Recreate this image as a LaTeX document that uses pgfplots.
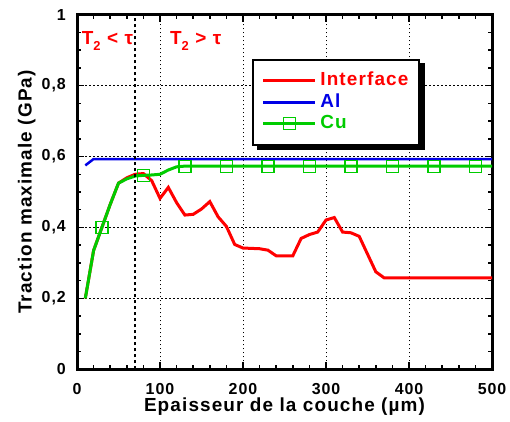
\documentclass[border=0pt]{standalone}
\usepackage{fontspec}
\setmainfont{Liberation Sans}[LetterSpace=6]
\usepackage{pgfplots}
\pgfplotsset{compat=1.18}
\pgfdeclarelayer{bg}
\pgfsetlayers{bg,main}
\definecolor{cured}{RGB}{255,0,0}
\definecolor{cublue}{RGB}{0,0,230}
\definecolor{cugreen}{RGB}{0,204,0}
\begin{document}
\begin{tikzpicture}
\begin{axis}[
  scale only axis, width=415bp, height=354.6bp,
  xmin=0, xmax=500, ymin=0, ymax=1,
  xtick={0,100,200,300,400,500},
  xticklabels={0,100,200,300,400,500},
  ytick={0,0.2,0.4,0.6,0.8,1},
  yticklabels={0,{0,2},{0,4},{0,6},{0,8},1},
  minor x tick num=4, minor y tick num=3,
  tick align=inside,
  major tick length=7bp, minor tick length=4bp,
  every tick/.style={black, line width=1.5bp},
  axis line style={black, line width=3bp},
  grid=major,
  major grid style={black, dash pattern=on 1.5bp off 2.5bp, line width=1bp},
  ticklabel style={font=\fontsize{16}{19}\selectfont\bfseries, inner sep=1bp},
  xticklabel style={yshift=-12.5bp},
  yticklabel style={xshift=-10bp},
  xlabel={Epaisseur de la couche (µm)},
  ylabel={Traction maximale (GPa)},
  label style={font=\fontsize{19}{22}\selectfont\bfseries, inner sep=1bp},
  xlabel style={yshift=-1.5bp},
  ylabel style={yshift=4bp},
  legend style={at={(0.422,0.875)}, anchor=north west, draw=black, line width=1.5bp,
    fill=white, name=leg,
    font=\fontsize{19}{21}\selectfont\bfseries, inner xsep=9bp, inner ysep=12bp,
    row sep=3.5bp, column sep=2bp,
    nodes={inner xsep=1.5bp, inner ysep=0bp, text height=14bp, text depth=4bp}},
  legend cell align=left,
  legend image code/.code={
    \draw[mark indices={2}] plot coordinates {(0bp,0bp) (26bp,0bp) (52bp,0bp)};
  },
]
\addplot[cured, line width=3bp] coordinates {
(10,0.2) (20,0.335) (30,0.40) (40,0.465) (50,0.525) (60,0.54) (70,0.55) (80,0.552)
(90,0.532) (100,0.482) (110,0.513) (120,0.47) (130,0.435) (140,0.437) (150,0.452)
(160,0.473) (170,0.43) (180,0.403) (190,0.352) (200,0.342) (220,0.34) (230,0.336)
(240,0.32) (260,0.32) (270,0.369) (280,0.38) (290,0.387) (300,0.421) (310,0.428)
(320,0.387) (330,0.385) (340,0.375) (360,0.275) (370,0.258) (500,0.258)
};
\addlegendentry{\textcolor{cured}{Interface}}
\addplot[cublue, line width=2.5bp] coordinates {
(10,0.575) (20,0.593) (500,0.593)
};
\addlegendentry{\textcolor{cublue}{Al}}
\addplot[cugreen, line width=3bp, mark=square, mark size=6bp,
  mark options={line width=1.2bp, fill=none},
  mark indices={3,8,13,18,23,28,33,38,43,48}] coordinates {
(10,0.2) (20,0.335) (30,0.40) (40,0.465) (50,0.525) (60,0.537) (70,0.545) (80,0.547)
(90,0.548) (100,0.55) (110,0.562) (120,0.571) (130,0.573) (140,0.573) (150,0.573)
(160,0.573) (170,0.573) (180,0.573) (190,0.573) (200,0.573) (210,0.573) (220,0.573)
(230,0.573) (240,0.573) (250,0.573) (260,0.573) (270,0.573) (280,0.573) (290,0.573)
(300,0.573) (310,0.573) (320,0.573) (330,0.573) (340,0.573) (350,0.573) (360,0.573)
(370,0.573) (380,0.573) (390,0.573) (400,0.573) (410,0.573) (420,0.573) (430,0.573)
(440,0.573) (450,0.573) (460,0.573) (470,0.573) (480,0.573) (490,0.573) (500,0.573)
};
\addlegendentry{\textcolor{cugreen}{Cu}}
\addplot[black, line width=2.5bp, dash pattern=on 3bp off 3bp, forget plot] coordinates {(70,0) (70,1)};
\node[anchor=west, inner sep=0, text=cured, font=\fontsize{19}{22}\selectfont\bfseries]
  at (axis cs:5.7,0.926) {T\raisebox{-6bp}{\fontsize{13}{13}\selectfont 2} < τ};
\node[anchor=west, inner sep=0, text=cured, font=\fontsize{19}{22}\selectfont\bfseries]
  at (axis cs:112,0.926) {T\raisebox{-6bp}{\fontsize{13}{13}\selectfont 2} > τ};
\end{axis}
\begin{pgfonlayer}{bg}
\fill[black] ([shift={(5bp,-4bp)}]leg.south west) rectangle ([shift={(5bp,-4bp)}]leg.north east);
\end{pgfonlayer}
\pgfresetboundingbox
\path ([xshift=-77bp,yshift=-51.7bp]current axis.south west) rectangle ([xshift=18bp,yshift=14.7bp]current axis.north east);
\end{tikzpicture}
\end{document}
